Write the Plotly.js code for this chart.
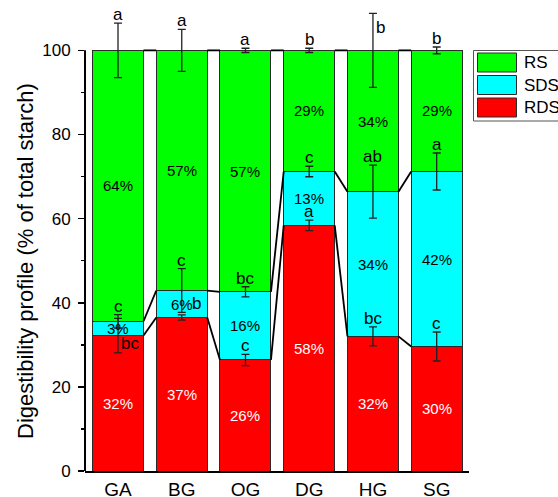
<!DOCTYPE html>
<html>
<head>
<meta charset="utf-8">
<script src="https://cdn.plot.ly/plotly-3.0.1.min.js"></script>
<style>
  html, body { margin: 0; padding: 0; background: #fff; overflow: hidden; }
  #chart { width: 558px; height: 497px; }
</style>
</head>
<body>
<div id="chart"></div>
<script>
// Starch fractions per sample (% of total starch)
const categories = ['GA', 'BG', 'OG', 'DG', 'HG', 'SG'];
const rds = [32.2, 36.5, 26.4, 58.4, 32.0, 29.6];
const sds = [3.4, 6.4, 16.2, 12.8, 34.4, 41.6];
const rs  = [64.4, 57.1, 57.4, 28.8, 33.6, 28.8];

// Standard deviations
const rdsErr = [4.1, 0.6, 1.35, 1.25, 2.25, 3.45];
const sdsErr = [1.6, 5.2, 1.2, 1.25, 6.3, 4.4];
const rsErr  = [6.5, 5.0, 0.5, 0.5, 8.8, 0.8];

// Significance letters
const rdsLetters = ['bc', 'b', 'c', 'a', 'bc', 'c'];
const sdsLetters = ['c', 'c', 'bc', 'c', 'ab', 'a'];
const rsLetters  = ['a', 'a', 'a', 'b', 'b', 'b'];

const yTickVals = [0, 20, 40, 60, 80, 100];
const yMinorTickVals = [10, 30, 50, 70, 90];
const seriesNames = ['RS', 'SDS', 'RDS'];

// ---- styling / geometry ----
const W = 558, H = 497;
const ML = 85, MR = 89, MT = 2, MB = 26;
const PW = W - ML - MR, PH = H - MT - MB;
const Y_RANGE = [0, 111.5];   // head room for error bars above 100
const Y_AXIS_TOP = 100;
const X_RANGE = [-0.518, 5.507];
const BAR_W = 0.8;
const FONT = 'Liberation Sans, Arial, sans-serif';
const COL = { RS: '#00ff00', SDS: '#00ffff', RDS: '#ff0000' };
const EDGE = '#2b2b2b';

const xs = categories.map((_, i) => i);
const rdsTop = rds.slice();
const sdsTop = rds.map((v, i) => v + sds[i]);
const rsTop = sdsTop.map((v, i) => v + rs[i]);

const pxX = px => (px - ML) / PW;
const pxY = py => (MT + PH - py) / PH;

function barTrace(name, vals) {
  return {
    type: 'bar', name: name, x: xs, y: vals, width: BAR_W,
    marker: { color: COL[name], line: { color: EDGE, width: 1 } },
    hoverinfo: 'skip', showlegend: false
  };
}

function errTrace(tops, errs) {
  return {
    type: 'scatter', mode: 'markers', x: xs, y: tops,
    marker: { size: 1, color: 'rgba(0,0,0,0)' },
    error_y: { type: 'data', array: errs, visible: true, color: '#222', thickness: 1.3, width: 4 },
    hoverinfo: 'skip', showlegend: false
  };
}

// lines joining segment boundaries of neighbouring bars
function connector(levels) {
  const x = [], y = [];
  for (let i = 0; i < levels.length - 1; i++) {
    x.push(xs[i] + BAR_W / 2, xs[i + 1] - BAR_W / 2, null);
    y.push(levels[i], levels[i + 1], null);
  }
  return {
    type: 'scatter', mode: 'lines', x: x, y: y,
    line: { color: '#000', width: 1.8 },
    hoverinfo: 'skip', showlegend: false
  };
}

const data = [
  barTrace('RDS', rds),
  barTrace('SDS', sds),
  barTrace('RS', rs),
  connector(rdsTop),
  connector(sdsTop),
  connector(rsTop),
  errTrace(rdsTop, rdsErr),
  errTrace(sdsTop, sdsErr),
  errTrace(rsTop, rsErr)
];

const annotations = [];

// percentage labels at segment centres
function pctLabels(bottoms, vals, color) {
  vals.forEach((v, i) => {
    annotations.push({
      x: xs[i], y: bottoms[i] + v / 2, xref: 'x', yref: 'y',
      text: Math.round(v) + '%', showarrow: false,
      font: { family: FONT, size: 15, color: color }
    });
  });
}
pctLabels(xs.map(() => 0), rds, '#ffffff');
pctLabels(rdsTop, sds, '#000000');
pctLabels(sdsTop, rs, '#000000');

// significance letters; a few sit beside their error bar instead of above it
const letterPlacement = {
  'RDS-0': { dy: -6.0, yanchor: 'middle', xshift: 1 },
  'RDS-1': { dy: 0.0, yanchor: 'bottom', xshift: 8 },
  'RS-4':  { dy: -3.3, yanchor: 'middle', xshift: 1 }
};
function letters(name, tops, errs, labs) {
  labs.forEach((t, i) => {
    const p = letterPlacement[name + '-' + i];
    annotations.push({
      x: xs[i], y: tops[i] + errs[i] + (p ? p.dy : 0), xref: 'x', yref: 'y',
      text: t, showarrow: false,
      xanchor: p ? 'left' : 'center',
      yanchor: p ? p.yanchor : 'bottom',
      xshift: p ? p.xshift : 0,
      yshift: p ? 0 : -3,
      font: { family: FONT, size: 17, color: '#000' }
    });
  });
}
letters('RDS', rdsTop, rdsErr, rdsLetters);
letters('SDS', sdsTop, sdsErr, sdsLetters);
letters('RS', rsTop, rsErr, rsLetters);

// axis title
annotations.push({
  x: pxX(25), y: pxY(261), xref: 'paper', yref: 'paper',
  text: 'Digestibility profile (% of total starch)', textangle: -90,
  showarrow: false, xanchor: 'center', yanchor: 'middle',
  font: { family: FONT, size: 22, color: '#000' }
});

// y axis line stops at 100
const shapes = [{
  type: 'line', xref: 'paper', yref: 'y', x0: 0, x1: 0, y0: Y_RANGE[0], y1: Y_AXIS_TOP,
  line: { color: '#000', width: 2 }
}];

// legend box
shapes.push({
  type: 'rect', xref: 'paper', yref: 'paper',
  x0: pxX(473.5), x1: pxX(600), y0: pxY(121), y1: pxY(50.5),
  line: { color: '#555', width: 1 }, fillcolor: 'rgba(0,0,0,0)'
});
seriesNames.forEach((name, k) => {
  const top = 53 + k * 22.5;
  shapes.push({
    type: 'rect', xref: 'paper', yref: 'paper',
    x0: pxX(477.5), x1: pxX(516.5), y0: pxY(top + 19), y1: pxY(top),
    line: { color: EDGE, width: 1 }, fillcolor: COL[name]
  });
  annotations.push({
    x: pxX(522), y: pxY(top + 9.5), xref: 'paper', yref: 'paper',
    text: name, showarrow: false, xanchor: 'left', yanchor: 'middle',
    font: { family: FONT, size: 17, color: '#000' }
  });
});

const layout = {
  width: W, height: H,
  margin: { l: ML, r: MR, t: MT, b: MB, pad: 0 },
  paper_bgcolor: '#fff', plot_bgcolor: 'rgba(0,0,0,0)',
  barmode: 'stack', showlegend: false,
  font: { family: FONT, color: '#000' },
  xaxis: {
    range: X_RANGE, tickvals: xs, ticktext: categories,
    showgrid: false, zeroline: false, ticks: '',
    showline: true, linecolor: '#000', linewidth: 2,
    tickfont: { family: FONT, size: 19, color: '#000' },
    ticklabelstandoff: 0, fixedrange: true
  },
  yaxis: {
    range: Y_RANGE, tickvals: yTickVals,
    showgrid: false, zeroline: false, showline: false,
    ticks: 'outside', ticklen: 6, tickwidth: 1.6, tickcolor: '#000',
    minor: { ticks: 'outside', ticklen: 3, tickwidth: 1.6, tickcolor: '#000', tickvals: yMinorTickVals },
    tickfont: { family: FONT, size: 17, color: '#000' },
    ticklabelstandoff: 4, fixedrange: true
  },
  annotations: annotations,
  shapes: shapes
};

Plotly.newPlot('chart', data, layout, { staticPlot: true, displayModeBar: false });
</script>
</body>
</html>
